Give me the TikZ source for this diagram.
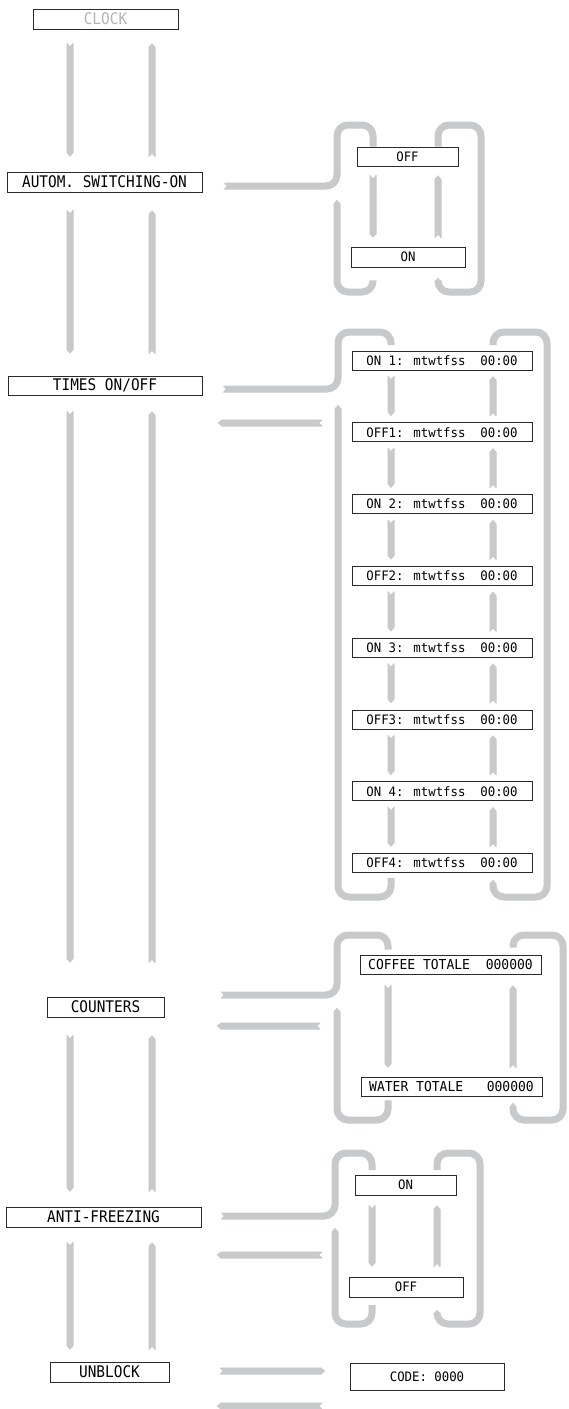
\documentclass[tikz,border=0pt]{standalone}
\usepackage{fontspec}
\usetikzlibrary{calc}
\newfontfamily\lfont[FakeStretch=0.9]{DejaVu Sans Mono}
\newfontfamily\rfont[FakeStretch=0.95]{DejaVu Sans Mono}
\definecolor{bandc}{HTML}{C8C9CB}
\definecolor{boxc}{HTML}{2A2A2A}
\definecolor{clockc}{HTML}{B4B4B4}
\tikzset{
  box/.style={draw=boxc, line width=0.8pt, fill=white, inner sep=0pt, minimum height=20pt},
  lbox/.style={box, font={\lfont\fontsize{16pt}{16pt}\selectfont}},
  rbox/.style={box, minimum height=19pt, font={\rfont\fontsize{13pt}{13pt}\selectfont}},
  cbox/.style={box, minimum height=19pt, font={\rfont\fontsize{13.7pt}{13.7pt}\selectfont}},
  loopband/.style={draw=bandc, line width=7pt, rounded corners=11pt},
}
% straight ribbon arrow: notch at #1, tip at #2
\newcommand\ribbon[2]{%
  \coordinate (rA) at (#1);
  \coordinate (rB) at (#2);
  \coordinate (rT) at ($(rB)!4pt!(rA)$);
  \filldraw[bandc, line width=0.8pt, line join=round]
    ($(rA)!3.1pt!90:(rB)$) -- ($(rA)!3.4pt!(rB)$) -- ($(rA)!3.1pt!-90:(rB)$)
    -- ($(rT)!3.1pt!-90:(rB)$) -- ($(rB)!0.4pt!(rA)$) -- ($(rT)!3.1pt!90:(rB)$) -- cycle;}
% pair of vertical ribbons: down at x=#5, up at x=#6
\newcommand\vpair[6]{%
  \ribbon{$(#1 -| #5,0)+(0,#3)$}{$(#2 -| #5,0)+(0,-#4)$}%
  \ribbon{$(#2 -| #6,0)+(0,-#4)$}{$(#1 -| #6,0)+(0,#3)$}}
% arrow tip from base #1 to point #2
\newcommand\tipto[2]{%
  \coordinate (tA) at (#1); \coordinate (tB) at (#2);
  \filldraw[bandc, line width=0.8pt, line join=round]
    ($(tA)!3.1pt!90:(tB)$) -- ($(tB)!0.4pt!(tA)$) -- ($(tA)!3.1pt!-90:(tB)$) -- cycle;}
% notch cut into the start #1 of a band heading to #2
\newcommand\notchat[2]{%
  \coordinate (nA) at (#1); \coordinate (nB) at (#2);
  \fill[white] ($(nA)!4.2pt!90:(nB)$) -- ($(nA)!3.4pt!(nB)$) -- ($(nA)!4.2pt!-90:(nB)$)
    -- ($(nA)!-1pt!(nB)$) -- cycle;}
\begin{document}
\begin{tikzpicture}[x=1pt,y=-1pt]
\useasboundingbox (0,0) rectangle (568,1409);
\clip (0,0) rectangle (568,1409);
\fill[white] (0,0) rectangle (568,1409);

% left column
\node[lbox, minimum width=145pt, text=clockc] (clock) at (105.5,19) {CLOCK};
\node[lbox, minimum width=195pt] (autom) at (104.5,182) {AUTOM. SWITCHING-ON};
\node[lbox, minimum width=194pt, minimum height=19pt] (times) at (105,385.5) {TIMES ON/OFF};
\node[lbox, minimum width=117pt] (counters) at (105.5,1007) {COUNTERS};
\node[lbox, minimum width=195pt] (anti) at (103.5,1217) {ANTI-FREEZING};
\node[lbox, minimum width=119pt] (unblock) at (109.5,1372) {UNBLOCK};

% automatic switching-on
\node[rbox, minimum width=101pt] (aoff) at (407.5,156.5) {OFF};
\node[rbox, minimum width=114pt, minimum height=20pt] (aon) at (408,257) {ON};

% times
\node[rbox, minimum width=180pt] (t1) at (442,360.5) {ON 1: mtwtfss\ \ 00:00};
\node[rbox, minimum width=180pt] (t2) at (442,432.3) {OFF1: mtwtfss\ \ 00:00};
\node[rbox, minimum width=180pt] (t3) at (442,504.1) {ON 2: mtwtfss\ \ 00:00};
\node[rbox, minimum width=180pt] (t4) at (442,575.9) {OFF2: mtwtfss\ \ 00:00};
\node[rbox, minimum width=180pt] (t5) at (442,647.7) {ON 3: mtwtfss\ \ 00:00};
\node[rbox, minimum width=180pt] (t6) at (442,719.5) {OFF3: mtwtfss\ \ 00:00};
\node[rbox, minimum width=180pt] (t7) at (442,791.3) {ON 4: mtwtfss\ \ 00:00};
\node[rbox, minimum width=180pt] (t8) at (442,863.1) {OFF4: mtwtfss\ \ 00:00};

% counters
\node[cbox, minimum width=181pt] (coffee) at (450.5,964.5) {COFFEE TOTALE\ \ 000000};
\node[cbox, minimum width=181pt] (water) at (451.5,1086.5) {WATER TOTALE\ \ \ 000000};

% anti-freezing
\node[rbox, minimum width=101pt, minimum height=20pt] (fon) at (405.5,1185) {ON};
\node[rbox, minimum width=114pt, minimum height=20pt] (foff) at (406,1287) {OFF};

% unblock
\node[rbox, minimum width=154pt, minimum height=27pt] (code) at (427,1376.5) {CODE: 0000};

% left column arrows
\vpair{clock.south}{autom.north}{14}{15}{70}{152}
\vpair{autom.south}{times.north}{18}{22}{70}{152}
\vpair{times.south}{counters.north}{16}{34}{70}{152}
\vpair{counters.south}{anti.north}{18}{15}{70}{152}
\vpair{anti.south}{unblock.north}{15}{12}{70}{152}

% automatic switching-on block
\vpair{aoff.south}{aon.north}{9}{9}{373}{438}
\coordinate (aS) at ($(autom.east)+(20.6,4)$);
\draw[loopband] (aS) -- (337,186) -- (337,125) -- (373,125) -- (aoff.north -| 373,0);
\notchat{aS}{337,186}
\draw[loopband] ($(aon.south -| 373,0)+(0,13)$) -- (373,292) -- (337,292) -- (337,204);
\tipto{337,204}{337,200}
\draw[loopband] (aoff.north -| 438,0) -- (438,125) -- (481,125) -- (481,292) -- (438,292) -- (438,282);
\tipto{438,282}{438,278}

% times block
\vpair{t1.south}{t2.north}{6}{6.5}{391}{493}
\vpair{t2.south}{t3.north}{6}{6.5}{391}{493}
\vpair{t3.south}{t4.north}{6}{6.5}{391}{493}
\vpair{t4.south}{t5.north}{6}{6.5}{391}{493}
\vpair{t5.south}{t6.north}{6}{6.5}{391}{493}
\vpair{t6.south}{t7.north}{6}{6.5}{391}{493}
\vpair{t7.south}{t8.north}{6}{6.5}{391}{493}
\coordinate (tS) at ($(times.east)+(19.6,3.5)$);
\draw[loopband] (tS) -- (338,389) -- (338,332) -- (391,332) -- ($(t1.north -| 391,0)+(0,-5.5)$);
\notchat{tS}{338,389}
\draw[loopband] ($(t8.south -| 391,0)+(0,5)$) -- (391,897) -- (338,897) -- (338,409);
\tipto{338,409}{338,405}
\draw[loopband] ($(t1.north -| 493,0)+(0,-5.5)$) -- (493,332) -- (547,332) -- (547,897) -- (493,897) -- (493,884);
\tipto{493,884}{493,880}
\ribbon{$(t1.west)+(-29.6,62.5)$}{$(times.east)+(15.6,37.5)$}

% counters block
\vpair{coffee.south}{water.north}{11}{9}{388}{513}
\coordinate (cS) at ($(counters.east)+(55.6,-12)$);
\draw[loopband] (cS) -- (337,995) -- (337,935) -- (388,935) -- ($(coffee.north -| 388,0)+(0,-5)$);
\notchat{cS}{337,995}
\draw[loopband] ($(water.south -| 388,0)+(0,4)$) -- (388,1120) -- (337,1120) -- (337,1012);
\tipto{337,1012}{337,1008}
\draw[loopband] ($(coffee.north -| 513,0)+(0,-7)$) -- (513,935) -- (563,935) -- (563,1120) -- (513,1120) -- (513,1107);
\tipto{513,1107}{513,1103}
\ribbon{$(coffee.west)+(-39.6,61.5)$}{$(counters.east)+(52.6,19)$}

% anti-freezing block
\vpair{fon.south}{foff.north}{10}{10}{372}{437}
\coordinate (fS) at ($(anti.east)+(18.6,-1)$);
\draw[loopband] (fS) -- (335,1216) -- (335,1153) -- (372,1153) -- ($(fon.north -| 372,0)+(0,-4.6)$);
\notchat{fS}{335,1216}
\draw[loopband] ($(foff.south -| 372,0)+(0,7.6)$) -- (372,1324) -- (335,1324) -- (335,1232);
\tipto{335,1232}{335,1228}
\draw[loopband] ($(fon.north -| 437,0)+(0,-4.6)$) -- (437,1153) -- (480,1153) -- (480,1324) -- (437,1324) -- (437,1314);
\tipto{437,1314}{437,1310}
\ribbon{$(fon.west)+(-32.6,70)$}{$(anti.east)+(15.6,38)$}

% unblock
\ribbon{$(unblock.east)+(50.6,-1)$}{$(code.west)+(-24.6,-5.5)$}
\ribbon{$(code.west)+(-27.6,29.5)$}{$(unblock.east)+(47.6,34)$}
\end{tikzpicture}
\end{document}
